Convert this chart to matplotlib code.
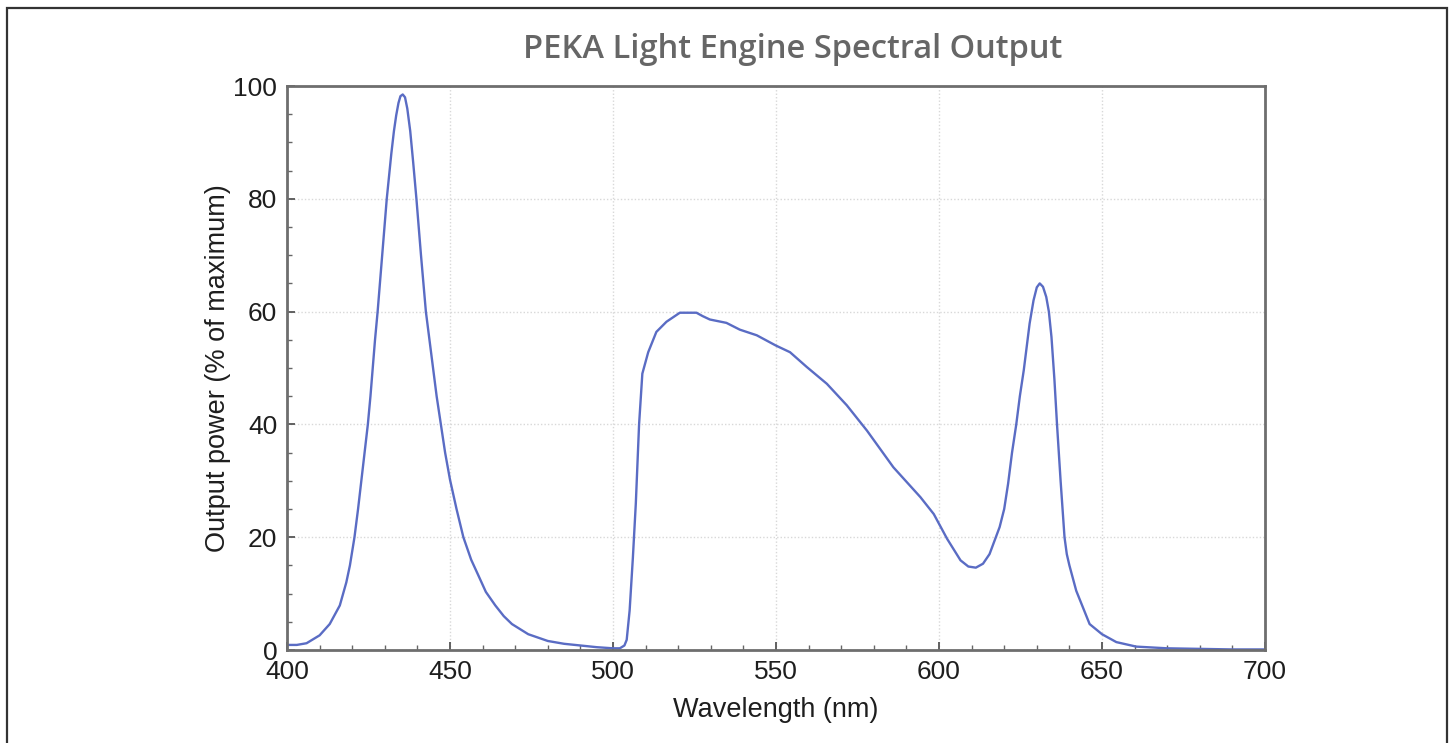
import matplotlib
matplotlib.use("Agg")
import matplotlib.pyplot as plt
from matplotlib.ticker import MultipleLocator
from matplotlib.patches import Rectangle

# Data
wavelength = [400, 403, 406, 410, 413.1, 416.2, 418.2, 419.3, 420.7, 421.8, 422.8, 423.8,
              424.8, 425.6, 426.3, 427.0, 427.8, 428.5, 429.2, 429.9, 430.6, 431.3, 432.0,
              432.8, 433.5, 434.2, 434.8, 435.5, 436.2, 436.9, 437.8, 438.7, 439.7, 441.1,
              442.6, 443.7, 444.8, 445.9, 447.2, 448.5, 450.0, 452.0, 454.1, 456.5, 458.8,
              461.0, 463.9, 466.5, 469.0, 474.0, 480, 485, 490, 495, 500, 502.1, 503.5,
              504.2, 505.1, 506.1, 507.0, 508.0, 509.0, 510.8, 513.3, 516.4, 520.5, 525.6,
              527.5, 529.7, 534.8, 538.9, 544.1, 549.9, 554.3, 559.4, 565.6, 571.7, 577.9,
              586.0, 594.3, 598.4, 602.5, 606.6, 609.0, 611.3, 613.5, 615.5, 618.6, 620.0,
              621.2, 622.4, 623.7, 624.8, 626.0, 627.8, 629.0, 630.0, 630.9, 631.9, 632.9,
              633.7, 634.5, 635.4, 636.2, 637.3, 638.5, 639.2, 640.0, 642.1, 646.2, 650.0,
              654.4, 660.5, 670, 680, 690, 700]
power = [0.9, 0.9, 1.2, 2.6, 4.6, 7.9, 12.0, 15.0, 20.0, 25.0, 30.0, 35.0,
         40.0, 45.0, 50.0, 55.0, 60.0, 65.0, 70.0, 75.0, 80.0, 84.0, 88.0,
         92.0, 94.8, 97.0, 98.2, 98.5, 98.0, 96.0, 92.0, 86.5, 80.0, 70.0,
         60.0, 55.0, 50.0, 45.0, 40.0, 35.0, 30.2, 25.0, 20.0, 16.0, 13.1,
         10.3, 7.9, 6.0, 4.6, 2.8, 1.6, 1.1, 0.8, 0.5, 0.3, 0.3, 0.8,
         1.8, 7.0, 16.4, 26.0, 40.0, 49.0, 52.8, 56.4, 58.2, 59.8, 59.8,
         59.2, 58.6, 58.0, 56.8, 55.8, 54.0, 52.8, 50.2, 47.2, 43.4, 38.9,
         32.4, 27.1, 24.1, 19.7, 15.9, 14.8, 14.6, 15.3, 17.0, 21.8, 25.0,
         29.5, 35.0, 40.0, 45.0, 49.6, 57.9, 62.0, 64.3, 65.0, 64.4, 62.6,
         60.0, 55.5, 48.0, 40.0, 30.0, 20.0, 17.0, 15.0, 10.5, 4.6, 2.8,
         1.4, 0.6, 0.3, 0.2, 0.1, 0.1]

title = "PEKA Light Engine Spectral Output"
xlabel = "Wavelength (nm)"
ylabel = "Output power (% of maximum)"

W, H = 1450, 743
fig = plt.figure(figsize=(W / 100, H / 100), dpi=100)
fig.patch.set_facecolor("white")

# outer frame
fig.patches.append(Rectangle((7 / W, -0.05), (1447 - 7) / W, 1.05 - 8 / H,
                             transform=fig.transFigure, fill=False,
                             edgecolor="#333333", linewidth=1.6))

ax = fig.add_axes([287 / W, 1 - 650 / H, (1265 - 287) / W, (650 - 86) / H])
ax.plot(wavelength, power, color="#5a6cc4", linewidth=1.7,
        solid_joinstyle="round", solid_capstyle="round")

ax.set_xlim(400, 700)
ax.set_ylim(0, 100)
ax.xaxis.set_major_locator(MultipleLocator(50))
ax.xaxis.set_minor_locator(MultipleLocator(10))
ax.yaxis.set_major_locator(MultipleLocator(20))
ax.yaxis.set_minor_locator(MultipleLocator(5))

ax.grid(True, which="major", linestyle=(0, (1, 1.5)), color="#d8d8d8", linewidth=1.0)
ax.set_axisbelow(True)

for s in ax.spines.values():
    s.set_color("#6e6e6e")
    s.set_linewidth(2.0)

ax.tick_params(which="major", direction="in", length=6, width=1.3, color="#555555",
               labelsize=19, pad=7, labelcolor="#1e1e1e")
ax.tick_params(which="minor", direction="in", length=3.5, width=1.0, color="#666666")
for lab in ax.get_xticklabels() + ax.get_yticklabels():
    lab.set_fontfamily("Liberation Sans")

fig.text(793 / W, 1 - 49 / H, title, ha="center", va="center", fontsize=23.5,
         fontfamily="Open Sans", fontweight="semibold", color="#666666")
fig.text(776 / W, 1 - 710 / H, xlabel, ha="center", va="center", fontsize=19.5,
         fontfamily="Liberation Sans", color="#1e1e1e")
fig.text(218 / W, 1 - 368 / H, ylabel, ha="center", va="center", fontsize=19.5,
         rotation=90, fontfamily="Liberation Sans", color="#1e1e1e")

fig.savefig("out.png", dpi=100, facecolor="white")
